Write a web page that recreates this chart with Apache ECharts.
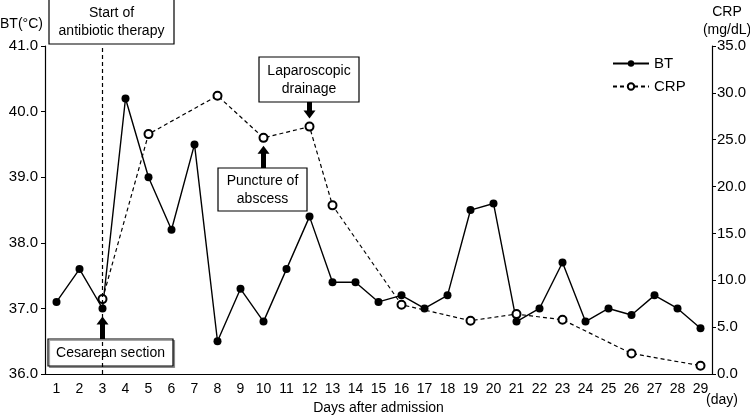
<!DOCTYPE html>
<html>
<head>
<meta charset="utf-8">
<script src="https://cdn.jsdelivr.net/npm/echarts@6/dist/echarts.min.js"></script>
<style>
  html, body { margin: 0; padding: 0; background: #fff; }
  #main { width: 750px; height: 420px; }
</style>
</head>
<body>
<div id="main"></div>
<script>
var days = ['1','2','3','4','5','6','7','8','9','10','11','12','13','14','15','16','17','18','19','20','21','22','23','24','25','26','27','28','29'];
var btValues = [37.1, 37.6, 37.0, 40.2, 39.0, 38.2, 39.5, 36.5, 37.3, 36.8, 37.6, 38.4, 37.4, 37.4, 37.1, 37.2, 37.0, 37.2, 38.5, 38.6, 36.8, 37.0, 37.7, 36.8, 37.0, 36.9, 37.2, 37.0, 36.7];
var crpValues = [null, null, 8.0, null, 25.6, null, null, 29.7, null, 25.2, null, 26.4, 18.0, null, null, 7.4, null, null, 5.7, null, 6.4, null, 5.8, null, null, 2.2, null, null, 0.9];
var btTicks = [36, 41, 1];
var crpTicks = [0, 35, 5];

var font = 'Liberation Sans, Arial, sans-serif';
var chart = echarts.init(document.getElementById('main'), null, {renderer: 'canvas'});

var option = {
  animation: false,
  backgroundColor: '#fff',
  textStyle: {fontFamily: font, color: '#000'},
  grid: {left: 45, right: 38, top: 46, bottom: 40},
  legend: {
    orient: 'vertical',
    left: 607,
    top: 51,
    itemWidth: 36,
    itemHeight: 8,
    itemGap: 8,
    textStyle: {fontFamily: font, fontSize: 15, color: '#000'},
    data: ['BT', 'CRP']
  },
  xAxis: {
    type: 'category',
    data: days,
    boundaryGap: true,
    name: 'Days after admission',
    nameLocation: 'middle',
    nameGap: 22,
    nameTextStyle: {fontFamily: font, fontSize: 14, color: '#000'},
    axisLine: {lineStyle: {color: '#000', width: 1.2}},
    axisTick: {alignWithLabel: true, length: 5, lineStyle: {color: '#000'}},
    axisLabel: {fontFamily: font, fontSize: 14, color: '#000', margin: 8, interval: 0}
  },
  yAxis: [
    {
      type: 'value',
      min: btTicks[0], max: btTicks[1], interval: btTicks[2],
      splitLine: {show: false},
      axisLine: {show: true, lineStyle: {color: '#000', width: 1.2}},
      axisTick: {show: true, length: 4, lineStyle: {color: '#000'}},
      axisLabel: {fontFamily: font, fontSize: 15, color: '#000', margin: 7,
        formatter: function (v) { return v.toFixed(1); }}
    },
    {
      type: 'value',
      min: crpTicks[0], max: crpTicks[1], interval: crpTicks[2],
      splitLine: {show: false},
      axisLine: {show: true, lineStyle: {color: '#000', width: 1.2}},
      axisTick: {show: true, length: 4, lineStyle: {color: '#000'}},
      axisLabel: {fontFamily: font, fontSize: 15, color: '#000', margin: 5,
        formatter: function (v) { return v.toFixed(1); }}
    }
  ],
  series: [
    {
      name: 'BT',
      type: 'line',
      yAxisIndex: 0,
      data: btValues,
      symbol: 'circle',
      symbolSize: 8,
      itemStyle: {color: '#000'},
      lineStyle: {color: '#000', width: 1.4},
      z: 3,
      markLine: {
        silent: true,
        symbol: 'none',
        label: {show: false},
        lineStyle: {color: '#000', type: [4, 3], width: 1.2},
        data: [{xAxis: '3'}]
      }
    },
    {
      name: 'CRP',
      type: 'line',
      yAxisIndex: 1,
      data: crpValues,
      connectNulls: true,
      showAllSymbol: true,
      symbol: 'emptyCircle',
      symbolSize: 8,
      itemStyle: {color: '#000', borderWidth: 1.2},
      lineStyle: {color: '#000', width: 1.2, type: [4, 3]},
      z: 4
    }
  ]
};
chart.setOption(option);

function px(day, val, axis) {
  return chart.convertToPixel({xAxisIndex: 0, yAxisIndex: axis}, [day, val]);
}
function box(x, y, w, h, txt, shadow) {
  return {
    type: 'group',
    children: [
      {type: 'rect', shape: {x: x, y: y, width: w, height: h},
        style: {fill: '#fff', stroke: '#000', lineWidth: 1.2,
          shadowColor: shadow ? 'rgba(0,0,0,0.35)' : 'transparent', shadowOffsetX: shadow ? 1.5 : 0, shadowOffsetY: shadow ? 1.5 : 0}},
      {type: 'text', x: x + w / 2, y: y + h / 2 + 1,
        style: {text: txt, fill: '#000', font: '14px ' + font, align: 'center', verticalAlign: 'middle', lineHeight: 18}}
    ]
  };
}
function arrow(x, yBase, yTip) {
  var d = yTip < yBase ? -1 : 1;
  var headLen = 8;
  var yNeck = yTip - d * headLen;
  return {
    type: 'polygon',
    shape: {points: [
      [x - 2.5, yBase], [x + 2.5, yBase], [x + 2.5, yNeck], [x + 6, yNeck],
      [x, yTip], [x - 6, yNeck], [x - 2.5, yNeck]
    ]},
    style: {fill: '#000'}
  };
}

var p3 = px('3', 37.0, 0);
var p10 = px('10', 25.2, 1);
var p12 = px('12', 26.4, 1);

chart.setOption({
  graphic: [
    {type: 'text', left: 0, top: 17, style: {text: 'BT(°C)', fill: '#000', font: '14px ' + font}},
    {type: 'text', x: 727, y: 3, style: {text: 'CRP\n(mg/dL)', fill: '#000', font: '14px ' + font, align: 'center', lineHeight: 18}},
    {type: 'text', x: 706, y: 393, style: {text: '(day)', fill: '#000', font: '14px ' + font}},
    box(49, -1, 125, 45, 'Start of\nantibiotic therapy', false),
    box(48, 339, 125, 27, 'Cesarean section', true),
    arrow(p3[0], 339, p3[1] + 8),
    box(218, 168, 89, 43, 'Puncture of\nabscess', false),
    arrow(p10[0], 168, p10[1] + 8),
    box(259, 57, 100, 45, 'Laparoscopic\ndrainage', false),
    arrow(p12[0], 102, p12[1] - 8)
  ]
});
</script>
</body>
</html>
